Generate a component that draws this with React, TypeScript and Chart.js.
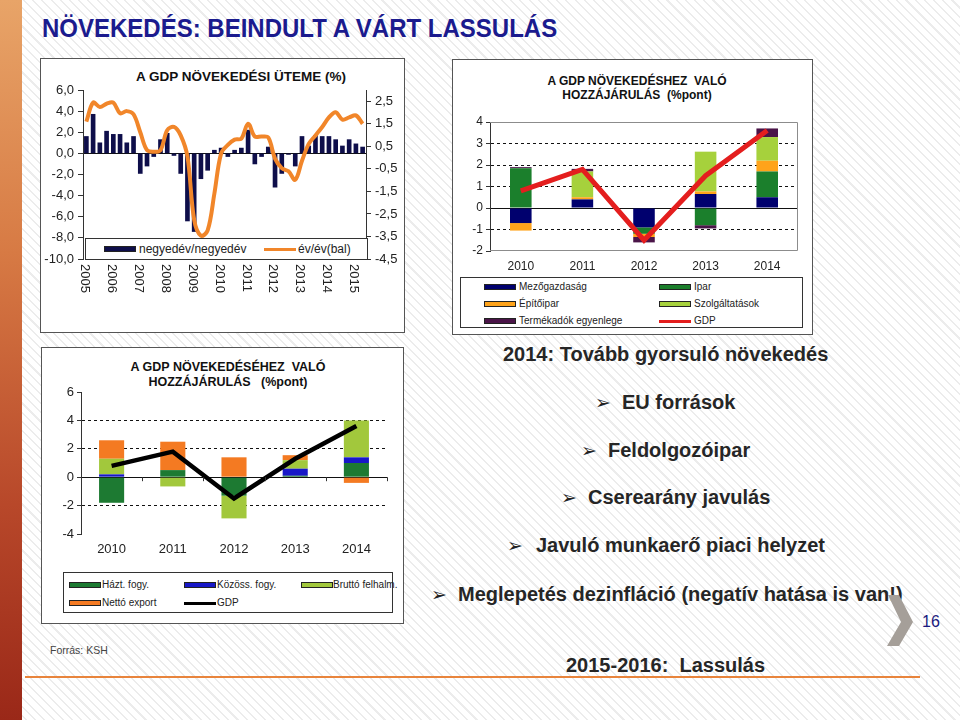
import React, { useEffect, useRef } from 'react';
import { Chart, registerables } from 'chart.js';

Chart.register(...registerables);

const FONT = '"Liberation Sans", Arial, Helvetica, sans-serif';
Chart.defaults.font.family = FONT;

// ---------- Chart 1: GDP growth rate (quarterly) ----------
const years1 = ['2005', '2006', '2007', '2008', '2009', '2010', '2011', '2012', '2013', '2014', '2015'];
const quarterNames = ['Q1', 'Q2', 'Q3', 'Q4'];
const quarterLabels = years1.flatMap((y) => quarterNames.map((q) => `${y} ${q}`)).slice(0, 42);
const qoqLabel = 'negyedév/negyedév';
const yoyLabel = 'év/év(bal)';
const qoqGrowth = [
  1.6, 3.7, 1.0, 2.1, 1.8, 1.8, 1.0, 1.6, -1.9, -1.2, -0.3, 1.3, 1.9, -0.2, -1.9, -6.4, -7.4, -2.4, -1.6, 0.3,
  0.5, -0.3, 0.3, 0.5, 2.2, -1.0, -0.3, 0.6, -3.2, -1.9, -0.1, -1.2, 1.6, 0.7, 1.7, 1.6, 1.6, 1.3, 0.7, 1.3,
  0.9, 0.6,
];
const yoyGrowth = [
  3.0, 4.8, 4.4, 4.7, 4.8, 3.8, 4.0, 3.7, 2.0, 0.3, 0.15, 0.3, 2.2, 2.5, 1.7, -0.3, -6.3, -7.8, -7.3, -3.8,
  0.0, 0.8, 1.3, 1.4, 2.8, 1.6, 1.6, 1.5, -0.5, -1.4, -1.7, -2.5, -0.7, 0.9, 1.7, 2.5, 3.4, 3.9, 3.2, 3.4,
  3.6, 2.8,
];
const rightTicks1 = [-4.5, -3.5, -2.5, -1.5, -0.5, 0.5, 1.5, 2.5];

// ---------- Chart 2: contribution by sector ----------
const years2 = ['2010', '2011', '2012', '2013', '2014'];
const sectorNames = ['Mezőgazdaság', 'Ipar', 'Építőipar', 'Szolgáltatások', 'Termékadók egyenlege', 'GDP'];
const mezogazdasag = [-0.7, 0.4, -0.9, 0.65, 0.5];
const ipar = [1.85, 0, -0.3, -0.8, 1.2];
const epitoipar = [-0.35, 0.1, -0.15, 0.12, 0.5];
const szolgaltatasok = [0, 1.2, 0, 1.85, 1.1];
const termekadok = [0.05, 0.12, -0.25, -0.15, 0.4];
const gdp2 = [0.8, 1.8, -1.5, 1.5, 3.6];

// ---------- Chart 3: contribution by expenditure ----------
const years3 = ['2010', '2011', '2012', '2013', '2014'];
const expNames = ['Házt. fogy.', 'Közöss. fogy.', 'Bruttó felhalm.', 'Nettó export', 'GDP'];
const haztFogy = [-1.8, 0.5, -1.3, 0.1, 1.0];
const kozossFogy = [0.2, 0, 0, 0.5, 0.4];
const bruttoFelhalm = [1.1, -0.65, -1.6, 0.6, 2.6];
const nettoExport = [1.3, 2.0, 1.4, 0.35, -0.4];
const gdp3 = [0.8, 1.8, -1.5, 1.3, 3.6];

const C2 = ['#00006e', '#1b7f2c', '#ffa31a', '#a6d13c', '#4a1448', '#e41e1e'];
const C3 = ['#1d7a32', '#1818c8', '#a2c83c', '#f47a22', '#000000'];

const fmtComma = (v: number) => Number(v).toFixed(1).replace('.', ',');

const yearLabelsPlugin = {
  id: 'yearLabels',
  afterDraw(chart: any) {
    const { ctx, chartArea, scales } = chart;
    ctx.save();
    ctx.font = `13px ${FONT}`;
    ctx.fillStyle = '#222';
    ctx.textAlign = 'left';
    ctx.textBaseline = 'middle';
    years1.forEach((yr, k) => {
      const x = scales.x.getPixelForValue(k * 4) - 2;
      ctx.save();
      ctx.translate(x, chartArea.bottom + 5);
      ctx.rotate(Math.PI / 2);
      ctx.fillText(yr, 0, 0);
      ctx.restore();
    });
    ctx.restore();
  },
};

const framePlugin = {
  id: 'frame',
  beforeDatasetsDraw(chart: any) {
    const { ctx, chartArea } = chart;
    ctx.save();
    ctx.strokeStyle = '#8c8c8c';
    ctx.lineWidth = 1;
    ctx.beginPath();
    ctx.moveTo(chartArea.left, chartArea.top + 0.5);
    ctx.lineTo(chartArea.right - 0.5, chartArea.top + 0.5);
    ctx.lineTo(chartArea.right - 0.5, chartArea.bottom - 0.5);
    ctx.lineTo(chartArea.left, chartArea.bottom - 0.5);
    ctx.stroke();
    ctx.restore();
  },
};

const zeroTicksPlugin = {
  id: 'zeroTicks',
  afterDatasetsDraw(chart: any) {
    const { ctx, scales } = chart;
    const y0 = scales.y.getPixelForValue(0);
    ctx.save();
    ctx.strokeStyle = '#333';
    ctx.lineWidth = 1;
    for (let i = 0; i < years3.length; i++) {
      const x = Math.round(scales.x.getPixelForValue(i + 0.5)) + 0.5;
      ctx.beginPath();
      ctx.moveTo(x, y0);
      ctx.lineTo(x, y0 + 4);
      ctx.stroke();
    }
    ctx.restore();
  },
};

const noGrid = { display: false, drawTicks: false, tickLength: 0 };

function chart1Config(): any {
  return {
    type: 'bar',
    data: {
      labels: quarterLabels,
      datasets: [
        {
          type: 'line',
          label: yoyLabel,
          data: yoyGrowth,
          borderColor: '#f1862a',
          borderWidth: 4,
          pointRadius: 0,
          tension: 0.35,
          yAxisID: 'y',
          order: 0,
        },
        {
          type: 'bar',
          label: qoqLabel,
          data: qoqGrowth,
          backgroundColor: '#0e0e4a',
          barThickness: 4,
          yAxisID: 'y',
          order: 1,
        },
      ],
    },
    options: {
      responsive: false,
      animation: false,
      devicePixelRatio: 1,
      layout: { padding: { top: 31, left: 0, right: 0, bottom: 0 } },
      plugins: { legend: { display: false }, tooltip: { enabled: false } },
      scales: {
        x: {
          grid: noGrid,
          border: { display: false },
          ticks: { display: false },
          afterFit: (s: any) => {
            s.height = 72;
          },
        },
        y: {
          position: 'left',
          min: -10,
          max: 6,
          ticks: { stepSize: 2, callback: (v: any) => fmtComma(v), font: { size: 13 }, color: '#222', padding: 4 },
          grid: {
            drawOnChartArea: true,
            color: (ctx: any) => (ctx.tick && ctx.tick.value === 0 ? '#111' : 'rgba(0,0,0,0)'),
            tickColor: '#333',
            tickLength: 5,
          },
          border: { color: '#333', width: 1 },
          afterFit: (s: any) => {
            s.width = 42;
          },
        },
        y2: {
          position: 'right',
          min: -4.5,
          max: 3,
          afterBuildTicks: (s: any) => {
            s.ticks = rightTicks1.map((v) => ({ value: v }));
          },
          ticks: { callback: (v: any) => fmtComma(v), font: { size: 13 }, color: '#222', padding: 4 },
          grid: { drawOnChartArea: false, tickColor: '#333', tickLength: 5 },
          border: { color: '#333', width: 1 },
          afterFit: (s: any) => {
            s.width = 37;
          },
        },
      },
    },
    plugins: [yearLabelsPlugin],
  };
}

function chart2Config(): any {
  const series = [mezogazdasag, ipar, epitoipar, szolgaltatasok, termekadok];
  return {
    type: 'bar',
    data: {
      labels: years2,
      datasets: [
        {
          type: 'line',
          label: sectorNames[5],
          data: gdp2,
          borderColor: C2[5],
          borderWidth: 5,
          pointRadius: 0,
          tension: 0,
          stack: 'line',
          order: 0,
        },
        ...series.map((d, i) => ({
          type: 'bar',
          label: sectorNames[i],
          data: d,
          backgroundColor: C2[i],
          barPercentage: 0.35,
          categoryPercentage: 1,
          stack: 'bars',
          order: 1,
        })),
      ],
    },
    options: {
      responsive: false,
      animation: false,
      devicePixelRatio: 1,
      layout: { padding: { top: 61, left: 0, right: 13, bottom: 0 } },
      plugins: { legend: { display: false }, tooltip: { enabled: false } },
      scales: {
        x: {
          stacked: true,
          grid: noGrid,
          border: { display: false },
          ticks: { font: { size: 12 }, color: '#222', padding: 8 },
          afterFit: (s: any) => {
            s.height = 24;
          },
        },
        y: {
          stacked: true,
          min: -2,
          max: 4,
          ticks: { stepSize: 1, font: { size: 12 }, color: '#222', padding: 3 },
          grid: {
            color: (ctx: any) => {
              if (!ctx.tick) return 'rgba(0,0,0,0)';
              const v = ctx.tick.value;
              if (v === 4 || v === -2) return 'rgba(0,0,0,0)';
              return '#111';
            },
            tickColor: '#333',
            tickLength: 4,
          },
          border: {
            color: '#333',
            width: 1,
            dash: (ctx: any) => (ctx.tick && ctx.tick.value !== 0 ? [3, 3] : []),
          },
          afterFit: (s: any) => {
            s.width = 37;
          },
        },
      },
    },
    plugins: [framePlugin],
  };
}

function chart3Config(): any {
  const series = [haztFogy, kozossFogy, bruttoFelhalm, nettoExport];
  return {
    type: 'bar',
    data: {
      labels: years3,
      datasets: [
        {
          type: 'line',
          label: expNames[4],
          data: gdp3,
          borderColor: C3[4],
          borderWidth: 4.5,
          pointRadius: 0,
          tension: 0,
          stack: 'line',
          order: 0,
        },
        ...series.map((d, i) => ({
          type: 'bar',
          label: expNames[i],
          data: d,
          backgroundColor: C3[i],
          barPercentage: 0.41,
          categoryPercentage: 1,
          stack: 'bars',
          order: 1,
        })),
      ],
    },
    options: {
      responsive: false,
      animation: false,
      devicePixelRatio: 1,
      layout: { padding: { top: 43, left: 0, right: 14, bottom: 0 } },
      plugins: { legend: { display: false }, tooltip: { enabled: false } },
      scales: {
        x: {
          stacked: true,
          grid: noGrid,
          border: { display: false },
          ticks: { font: { size: 13 }, color: '#222', padding: 8 },
          afterFit: (s: any) => {
            s.height = 30;
          },
        },
        y: {
          stacked: true,
          min: -4,
          max: 6,
          ticks: { stepSize: 2, font: { size: 13 }, color: '#222', padding: 3 },
          grid: {
            color: (ctx: any) => {
              if (!ctx.tick) return 'rgba(0,0,0,0)';
              const v = ctx.tick.value;
              if (v === 6 || v === -4) return 'rgba(0,0,0,0)';
              return '#111';
            },
            tickColor: '#333',
            tickLength: 4,
          },
          border: {
            color: '#333',
            width: 1,
            dash: (ctx: any) => (ctx.tick && ctx.tick.value !== 0 ? [3, 3] : []),
          },
          afterFit: (s: any) => {
            s.width = 37;
          },
        },
      },
    },
    plugins: [zeroTicksPlugin],
  };
}

function ChartCanvas(props: { left: number; top: number; width: number; height: number; make: () => any }) {
  const ref = useRef<HTMLCanvasElement>(null);
  useEffect(() => {
    const c = new Chart(ref.current as HTMLCanvasElement, props.make());
    return () => c.destroy();
  }, []);
  return (
    <canvas
      ref={ref}
      width={props.width}
      height={props.height}
      style={{ position: 'absolute', left: props.left, top: props.top, width: props.width, height: props.height }}
    />
  );
}

const abs = (left: number, top: number, extra: any = {}) => ({ position: 'absolute' as const, left, top, ...extra });

function Swatch({ left, color, line }: { left: number; color: string; line?: boolean }) {
  return (
    <div
      style={abs(left, line ? -1.5 : -3, {
        width: 32,
        height: line ? 3 : 6,
        background: color,
        border: line ? 'none' : '1px solid #222',
        boxSizing: 'border-box',
      })}
    />
  );
}

function LegendItem(props: { left: number; rowY: number; textLeft: number; color: string; label: string; line?: boolean; size?: number }) {
  return (
    <div style={abs(0, props.rowY)}>
      <Swatch left={props.left} color={props.color} line={props.line} />
      <span
        style={abs(props.textLeft, -7, {
          fontSize: props.size || 10,
          lineHeight: '14px',
          whiteSpace: 'nowrap',
          color: '#222',
        })}
      >
        {props.label}
      </span>
    </div>
  );
}

const titleStyle = (cx: number, top: number, size: number) =>
  abs(cx - 150, top, {
    width: 300,
    textAlign: 'center' as const,
    fontWeight: 'bold',
    fontSize: size,
    lineHeight: `${size + 2}px`,
    color: '#111',
    whiteSpace: 'pre' as const,
  });

const bulletStyle = (left: number, centerY: number) =>
  abs(left - 1, centerY - 11, { fontSize: 19, lineHeight: '22px', fontFamily: '"DejaVu Sans", sans-serif', color: '#222' });
const textStyle = (left: number, centerY: number) =>
  abs(left, centerY - 10, { fontSize: 20, lineHeight: '20px', fontWeight: 'bold', color: '#262626', whiteSpace: 'pre' as const });

const bulletItems = [
  { text: 'EU források', bx: 596, tx: 622, y: 402 },
  { text: 'Feldolgozóipar', bx: 582, tx: 608, y: 450 },
  { text: 'Cserearány javulás', bx: 562, tx: 588, y: 497 },
  { text: 'Javuló munkaerő piaci helyzet', bx: 508, tx: 536, y: 545 },
  { text: 'Meglepetés dezinfláció (negatív hatása is van!)', bx: 432, tx: 458, y: 594 },
];

export default function App() {
  return (
    <div
      style={{
        position: 'fixed',
        left: 0,
        top: 0,
        width: 960,
        height: 720,
        overflow: 'hidden',
        fontFamily: FONT,
        background: 'repeating-linear-gradient(45deg, #ffffff 0px, #ffffff 5px, #ececec 5px, #ececec 6.5px)',
      }}
    >
      {/* left strip */}
      <div
        style={abs(0, 0, {
          width: 22,
          height: 720,
          background: 'linear-gradient(180deg, #e8a468 0%, #d77a44 35%, #b8482a 70%, #9a2818 100%)',
        })}
      />
      {/* slide title */}
      <div
        style={abs(42, 14, {
          fontSize: 24,
          lineHeight: '28px',
          fontWeight: 'bold',
          color: '#1b1b8e',
          whiteSpace: 'nowrap',
          transform: 'scaleY(1.08)',
          transformOrigin: 'left center',
        })}
      >
        NÖVEKEDÉS: BEINDULT A VÁRT LASSULÁS
      </div>

      {/* Panel 1 */}
      <div style={abs(40, 58, { width: 365, height: 275, background: '#fff', border: '1.5px solid #555', boxSizing: 'border-box' })} />
      <div style={titleStyle(241, 69, 13.5)}>A GDP NÖVEKEDÉSI ÜTEME (%)</div>
      <ChartCanvas left={41} top={59} width={362} height={272} make={chart1Config} />
      <div style={abs(85, 238, { width: 283, height: 22, background: '#fff', border: '1px solid #333', boxSizing: 'border-box' })}>
        <LegendItem left={18} textLeft={53} rowY={10} color="#0e0e4a" label={qoqLabel} size={12} />
        <LegendItem left={178} textLeft={212} rowY={10} color="#f1862a" label={yoyLabel} line size={12} />
      </div>

      {/* Panel 2 */}
      <div style={abs(452, 59, { width: 361, height: 276, background: '#fff', border: '1.5px solid #555', boxSizing: 'border-box' })} />
      <div style={titleStyle(637, 74, 12)}>{'A GDP NÖVEKEDÉSHEZ  VALÓ\nHOZZÁJÁRULÁS  (%pont)'}</div>
      <ChartCanvas left={453} top={61} width={358} height={214} make={chart2Config} />
      <div style={abs(460, 277, { width: 343, height: 51, background: '#fff', border: '1px solid #333', boxSizing: 'border-box' })}>
        <LegendItem left={23} textLeft={58} rowY={9} color={C2[0]} label={sectorNames[0]} />
        <LegendItem left={198} textLeft={233} rowY={9} color={C2[1]} label={sectorNames[1]} />
        <LegendItem left={23} textLeft={58} rowY={26} color={C2[2]} label={sectorNames[2]} />
        <LegendItem left={198} textLeft={233} rowY={26} color={C2[3]} label={sectorNames[3]} />
        <LegendItem left={23} textLeft={58} rowY={43} color={C2[4]} label={sectorNames[4]} />
        <LegendItem left={198} textLeft={233} rowY={43} color={C2[5]} label={sectorNames[5]} line />
      </div>

      {/* Panel 3 */}
      <div style={abs(41, 347, { width: 363, height: 277, background: '#fff', border: '1.5px solid #555', boxSizing: 'border-box' })} />
      <div style={titleStyle(228, 360, 12.5)}>{'A GDP NÖVEKEDÉSÉHEZ  VALÓ\nHOZZÁJÁRULÁS   (%pont)'}</div>
      <ChartCanvas left={44} top={349} width={357} height={215} make={chart3Config} />
      <div style={abs(63, 572, { width: 330, height: 41, background: '#fff', border: '1px solid #333', boxSizing: 'border-box' })}>
        <LegendItem left={5} textLeft={38} rowY={12} color={C3[0]} label={expNames[0]} />
        <LegendItem left={120} textLeft={153} rowY={12} color={C3[1]} label={expNames[1]} />
        <LegendItem left={237} textLeft={269} rowY={12} color={C3[2]} label={expNames[2]} />
        <LegendItem left={5} textLeft={38} rowY={30} color={C3[3]} label={expNames[3]} />
        <LegendItem left={120} textLeft={153} rowY={30} color={C3[4]} label={expNames[4]} line />
      </div>

      {/* Right text */}
      <div style={textStyle(503, 354)}>2014: Tovább gyorsuló növekedés</div>
      {bulletItems.map((b) => (
        <React.Fragment key={b.text}>
          <div style={bulletStyle(b.bx, b.y)}>➢</div>
          <div style={textStyle(b.tx, b.y)}>{b.text}</div>
        </React.Fragment>
      ))}
      <div style={textStyle(566, 665)}>{'2015-2016:  Lassulás'}</div>

      {/* footer */}
      <div style={abs(50, 644, { fontSize: 10.5, lineHeight: '12px', color: '#444', whiteSpace: 'nowrap' })}>Forrás: KSH</div>
      <div style={abs(25, 676, { width: 895, height: 2, background: '#e8843c' })} />
      <svg style={abs(884, 593)} width={32} height={56} viewBox="0 0 32 56">
        <polygon points="4,2 15,2 29,29 15,53 3,53 17,29" fill="#a59f99" />
      </svg>
      <div style={abs(922, 614, { fontSize: 16, lineHeight: '16px', color: '#1a1a80' })}>16</div>
    </div>
  );
}
